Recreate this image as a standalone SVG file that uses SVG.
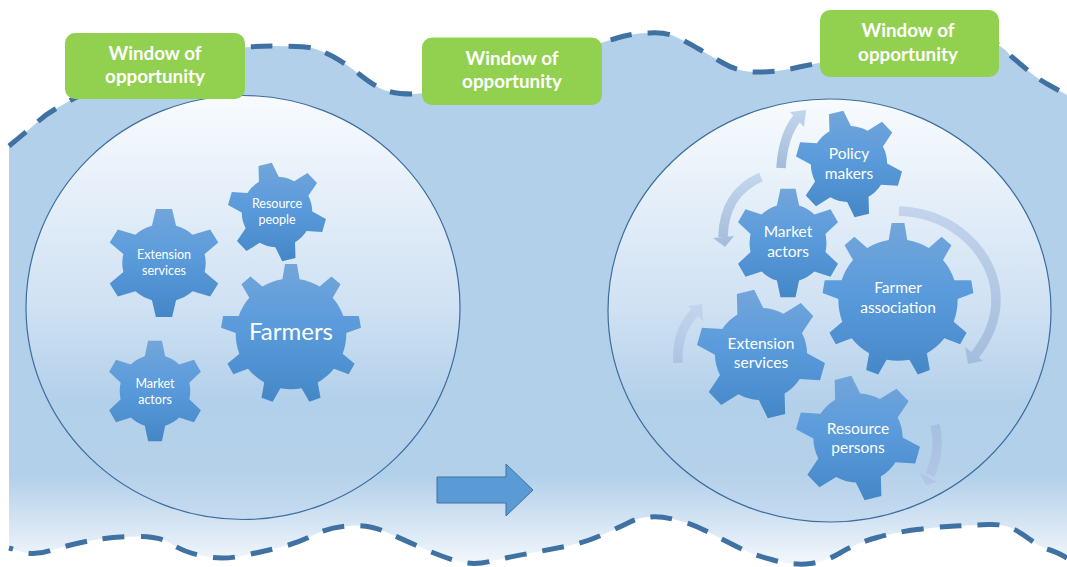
<svg xmlns="http://www.w3.org/2000/svg" xmlns:xlink="http://www.w3.org/1999/xlink" width="1067" height="567" viewBox="0 0 1067 567">
<style>
.edge{fill:none;stroke:#3f71a3;stroke-width:5;stroke-dasharray:22 16}
.disc{stroke:#3d6d9e;stroke-width:1.2;fill:url(#discFill)}
.win{fill:#92d14f}
.wt{font-family:"Lato","Liberation Sans",sans-serif;font-weight:700;font-size:18.8px;fill:#fff;text-anchor:middle}
.gt{font-family:"Lato","Liberation Sans",sans-serif;fill:#fff;text-anchor:middle}
.s12{font-size:12.5px}.s15{font-size:15.5px}.s24{font-size:24px}
.gb{fill:url(#gearFill)}
.arc{fill:none;stroke-width:9.5}
</style>
<defs>
<linearGradient id="bgFill" gradientUnits="userSpaceOnUse" x1="0" y1="0" x2="0" y2="567"><stop offset="0.84" stop-color="#b3d0ea"/><stop offset="0.99" stop-color="#f1f6fc"/></linearGradient>
<linearGradient id="discFill" x1="0" y1="0" x2="0" y2="1"><stop offset="0" stop-color="#f8fbfe"/><stop offset="0.5" stop-color="#cfe1f3"/><stop offset="0.72" stop-color="#b3d0ea"/><stop offset="0.88" stop-color="#b5d1ea"/><stop offset="1" stop-color="#c6dbf0"/></linearGradient>
<linearGradient id="gearFill" x1="0" y1="0" x2="0" y2="1"><stop offset="0" stop-color="#74a6da"/><stop offset="0.45" stop-color="#5a9bdc"/><stop offset="1" stop-color="#4386c6"/></linearGradient>
<linearGradient id="a1" gradientUnits="userSpaceOnUse" x1="0" y1="110" x2="0" y2="168"><stop offset="0" stop-color="#c3d5ee"/><stop offset="1" stop-color="#a2bcdc"/></linearGradient>
<linearGradient id="a2" gradientUnits="userSpaceOnUse" x1="0" y1="177" x2="0" y2="247"><stop offset="0" stop-color="#c3d5ee"/><stop offset="1" stop-color="#a2bcdc"/></linearGradient>
<linearGradient id="a3" gradientUnits="userSpaceOnUse" x1="0" y1="208" x2="0" y2="364"><stop offset="0" stop-color="#c3d4ec"/><stop offset="1" stop-color="#a3bddc"/></linearGradient>
<linearGradient id="a4" gradientUnits="userSpaceOnUse" x1="0" y1="304" x2="0" y2="363"><stop offset="0" stop-color="#c3d5ee"/><stop offset="1" stop-color="#abc5e2"/></linearGradient>
<linearGradient id="a5" gradientUnits="userSpaceOnUse" x1="0" y1="425" x2="0" y2="485"><stop offset="0" stop-color="#a6c0df"/><stop offset="1" stop-color="#b4c6e6"/></linearGradient>
<polygon id="t6" points="-21,-68 -14,-100 14,-100 21,-68"/>
<polygon id="t9" points="-13,-74 -8.5,-100 8.5,-100 13,-74"/>
<clipPath id="c6a" clipPathUnits="userSpaceOnUse"><circle r="72"/><use xlink:href="#t6"/><use xlink:href="#t6" transform="rotate(60)"/><use xlink:href="#t6" transform="rotate(120)"/><use xlink:href="#t6" transform="rotate(180)"/><use xlink:href="#t6" transform="rotate(240)"/><use xlink:href="#t6" transform="rotate(300)"/></clipPath>
<clipPath id="c6b" clipPathUnits="userSpaceOnUse"><circle r="72"/><use xlink:href="#t6" transform="rotate(-14)"/><use xlink:href="#t6" transform="rotate(46)"/><use xlink:href="#t6" transform="rotate(106)"/><use xlink:href="#t6" transform="rotate(166)"/><use xlink:href="#t6" transform="rotate(226)"/><use xlink:href="#t6" transform="rotate(286)"/></clipPath>
<clipPath id="c9" clipPathUnits="userSpaceOnUse"><circle r="79"/><use xlink:href="#t9"/><use xlink:href="#t9" transform="rotate(40)"/><use xlink:href="#t9" transform="rotate(80)"/><use xlink:href="#t9" transform="rotate(120)"/><use xlink:href="#t9" transform="rotate(160)"/><use xlink:href="#t9" transform="rotate(200)"/><use xlink:href="#t9" transform="rotate(240)"/><use xlink:href="#t9" transform="rotate(280)"/><use xlink:href="#t9" transform="rotate(320)"/></clipPath>
</defs>

<path id="field" fill="url(#bgFill)" d="M9,146 Q31,128 38,121.5 Q45,115 54.5,109.5 Q64,104 72,99.5 Q80,95 120,77.5 Q160,60 200,53 Q240,46 272,46 Q305,46 312,48 Q320,50 332,56 Q345,63 359,74 Q374,86 384,90 Q395,94 412,94 Q430,94 475,83 Q520,72 560,57 Q600,43 617,38 Q634,33 650,33 Q668,32 678,38 Q689,43 697,48 Q706,53 723,63 Q740,73 760,72 Q779,72 799,67 Q819,63 880,50 Q950,40 980,38 Q1000,42 1012,57 Q1025,68 1031,73 Q1038,79 1049,85 Q1060,91 1067,95 L1067,558 Q1057,552 1048.5,549.5 Q1040,547 1030,539.5 Q1020,532 1011.5,528 Q1003,524 988,524.5 Q973,525 955,526 Q937,527 917,529.5 Q897,532 877,537.5 Q857,543 840,553 Q823,563 806,564 Q790,565 771.5,559.5 Q753,555 736.5,546.5 Q720,538 705,530.5 Q690,523 675,519.5 Q660,516 650,517 Q640,517 630,522 Q620,527 602,535 Q584,543 565.5,546.5 Q547,550 528.5,553.5 Q510,557 491.5,561 Q473,566 455,560.5 Q437,555 418.5,546.5 Q400,538 383.5,531 Q367,524 347,526 Q327,528 312.5,535.5 Q298,543 279.5,547.5 Q261,552 241.5,556 Q222,560 203,556 Q184,552 172.5,544.5 Q161,536 135,536.5 Q108,537 88.5,541 Q69,545 52,550 Q35,556 22,552 Q9,548 9,548 Z"/>

<g id="connectors">
<path class="edge" d="M9,146 Q31,128 38,121.5 Q45,115 54.5,109.5 Q64,104 72,99.5 Q80,95 120,77.5 Q160,60 200,53 Q240,46 272,46 Q305,46 312,48 Q320,50 332,56 Q345,63 359,74 Q374,86 384,90 Q395,94 412,94 Q430,94 475,83 Q520,72 560,57 Q600,43 617,38 Q634,33 650,33 Q668,32 678,38 Q689,43 697,48 Q706,53 723,63 Q740,73 760,72 Q779,72 799,67 Q819,63 880,50 Q950,40 980,38 Q1000,42 1012,57 Q1025,68 1031,73 Q1038,79 1049,85 Q1060,91 1067,95"/>
<path class="edge" d="M1067,558 Q1057,552 1048.5,549.5 Q1040,547 1030,539.5 Q1020,532 1011.5,528 Q1003,524 988,524.5 Q973,525 955,526 Q937,527 917,529.5 Q897,532 877,537.5 Q857,543 840,553 Q823,563 806,564 Q790,565 771.5,559.5 Q753,555 736.5,546.5 Q720,538 705,530.5 Q690,523 675,519.5 Q660,516 650,517 Q640,517 630,522 Q620,527 602,535 Q584,543 565.5,546.5 Q547,550 528.5,553.5 Q510,557 491.5,561 Q473,566 455,560.5 Q437,555 418.5,546.5 Q400,538 383.5,531 Q367,524 347,526 Q327,528 312.5,535.5 Q298,543 279.5,547.5 Q261,552 241.5,556 Q222,560 203,556 Q184,552 172.5,544.5 Q161,536 135,536.5 Q108,537 88.5,541 Q69,545 52,550 Q35,556 22,552 Q9,548 9,548"/>
</g>

<ellipse id="circle-before" class="disc" cx="243" cy="307.5" rx="217" ry="212"/>
<ellipse id="circle-after" class="disc" cx="829.5" cy="310.5" rx="221.5" ry="211.5"/>

<g id="window-1"><rect class="win" x="65" y="33" width="180" height="66" rx="10"/><text class="wt" x="155" y="60">Window of</text><text class="wt" x="155" y="83">opportunity</text></g>
<g id="window-2"><rect class="win" x="422" y="37.5" width="180" height="67.5" rx="10"/><text class="wt" x="512" y="65">Window of</text><text class="wt" x="512" y="88">opportunity</text></g>
<g id="window-3"><rect class="win" x="820" y="10" width="179" height="67" rx="10"/><text class="wt" x="908" y="37">Window of</text><text class="wt" x="908" y="61">opportunity</text></g>

<g id="gear-extension-left"><rect class="gb" transform="translate(164,263) scale(.58,.54)" x="-105" y="-105" width="210" height="210" clip-path="url(#c6a)"/><text class="gt s12" x="164" y="259">Extension</text><text class="gt s12" x="164" y="275">services</text></g>
<g id="gear-resource-people"><rect class="gb" transform="translate(277,212) scale(.49,.49)" x="-105" y="-105" width="210" height="210" clip-path="url(#c6b)"/><text class="gt s12" x="277" y="208">Resource</text><text class="gt s12" x="277" y="224">people</text></g>
<g id="gear-market-left"><rect class="gb" transform="translate(155,391) scale(.49,.505)" x="-105" y="-105" width="210" height="210" clip-path="url(#c6a)"/><text class="gt s12" x="155" y="388">Market</text><text class="gt s12" x="155" y="404">actors</text></g>
<g id="gear-farmers"><rect class="gb" transform="translate(291,334) scale(.7,.7)" x="-105" y="-105" width="210" height="210" clip-path="url(#c9)"/><text class="gt s24" x="291" y="340">Farmers</text></g>

<g id="gear-policy"><rect class="gb" transform="translate(849,164) scale(.53,.53)" x="-105" y="-105" width="210" height="210" clip-path="url(#c6b)"/><text class="gt s15" x="849" y="159">Policy</text><text class="gt s15" x="849" y="179">makers</text></g>
<g id="gear-market-right"><rect class="gb" transform="translate(788,243) scale(.534,.545)" x="-105" y="-105" width="210" height="210" clip-path="url(#c6a)"/><text class="gt s15" x="788" y="237">Market</text><text class="gt s15" x="788" y="257">actors</text></g>
<g id="gear-farmer-association"><rect class="gb" transform="translate(898,300) scale(.755,.77)" x="-105" y="-105" width="210" height="210" clip-path="url(#c9)"/><text class="gt s15" x="898" y="293">Farmer</text><text class="gt s15" x="898" y="313">association</text></g>
<g id="gear-extension-right"><rect class="gb" transform="translate(761,354) scale(.64,.64)" x="-105" y="-105" width="210" height="210" clip-path="url(#c6b)"/><text class="gt s15" x="761" y="349">Extension</text><text class="gt s15" x="761" y="368">services</text></g>
<g id="gear-resource-persons"><rect class="gb" transform="translate(858,438) scale(.62,.62)" x="-105" y="-105" width="210" height="210" clip-path="url(#c6b)"/><text class="gt s15" x="858" y="434">Resource</text><text class="gt s15" x="858" y="453">persons</text></g>

<g id="cycle-arrows">
<path class="arc" stroke="url(#a1)" d="M781,168 Q783,135 798,117"/><polygon fill="url(#a1)" points="806,110 790,112 804,127"/>
<path class="arc" stroke="url(#a2)" d="M761,177 Q724,193 723,237"/><polygon fill="url(#a2)" points="725,247 713,238 734,236"/>
<path class="arc" stroke="url(#a3)" d="M899,211 C955,213 996,255 996,300 C996,320 987,340 975,355"/><polygon fill="url(#a3)" points="968,364 965,347 983,361"/>
<path class="arc" stroke="url(#a4)" d="M678,363 Q676,332 695,312"/><polygon fill="url(#a4)" points="702,304 688,306 703,321"/>
<path class="arc" stroke="url(#a5)" d="M935,425 Q941,450 930,475"/><polygon fill="url(#a5)" points="926,485 919,472 937,482"/>
</g>

<polygon id="progress-arrow" fill="#5b9bd5" stroke="#41719c" stroke-width="1" points="437,477 506,477 506,464 533,490 506,516 506,503 437,503"/>
</svg>
